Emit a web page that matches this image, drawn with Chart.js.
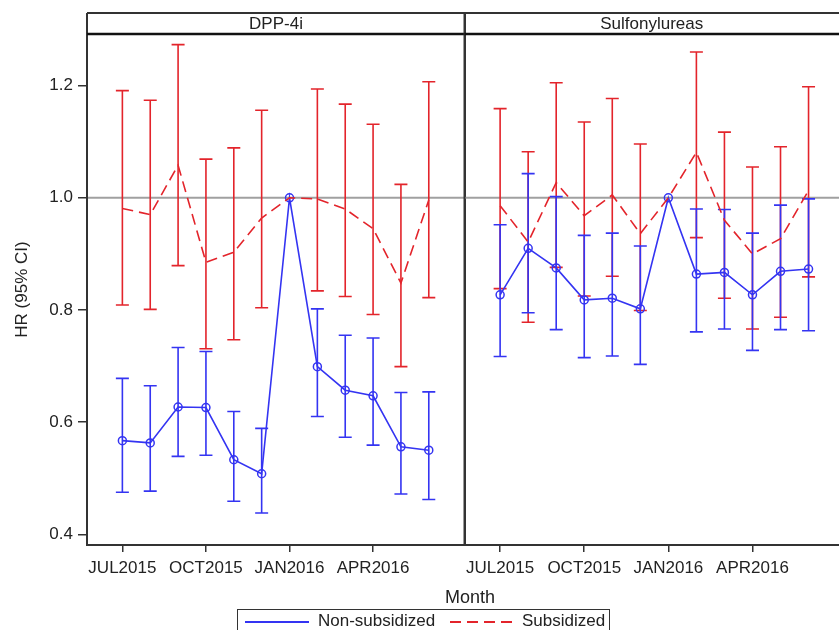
<!DOCTYPE html>
<html>
<head>
<meta charset="utf-8">
<script src="https://cdn.jsdelivr.net/npm/chart.js@4.4.1/dist/chart.umd.min.js"></script>
<style>
  body {
    margin: 0;
    width: 839px;
    height: 630px;
    overflow: hidden;
    background: #fff;
    position: relative;
    font-family: "Liberation Sans", Arial, sans-serif;
    color: #222;
  }
  canvas { position: absolute; top: 0; }
  #chart-dpp { left: 0; }
  #chart-su { left: 460px; }
  #xtitle {
    position: absolute;
    left: 420px;
    width: 100px;
    top: 586px;
    text-align: center;
    font-size: 18px;
    line-height: 22px;
  }
  #legend {
    position: absolute;
    left: 237px;
    top: 609px;
    width: 373px;
    height: 30px;
    border: 1.5px solid #333;
    box-sizing: border-box;
    font-size: 17px;
  }
  #legend .swatch {
    position: absolute;
    top: 11px;
    height: 2px;
  }
  #legend .label {
    position: absolute;
    top: 1px;
    line-height: 20px;
  }
</style>
</head>
<body>
<canvas id="chart-dpp" width="466" height="590"></canvas>
<canvas id="chart-su" width="385" height="590"></canvas>
<div id="xtitle">Month</div>
<div id="legend">
  <span class="swatch" style="left:7px;width:64px;background:#3434f2;"></span>
  <span class="label" style="left:80px;">Non-subsidized</span>
  <span class="swatch" style="left:212px;width:64px;background:repeating-linear-gradient(to right,#e3242b 0 11px,transparent 11px 17px);"></span>
  <span class="label" style="left:284px;">Subsidized</span>
</div>
<script>
const months = ["JUL2015", "AUG2015", "SEP2015", "OCT2015", "NOV2015", "DEC2015",
  "JAN2016", "FEB2016", "MAR2016", "APR2016", "MAY2016", "JUN2016"];
const xTickIndex = [0, 3, 6, 9];
const yTicks = [0.4, 0.6, 0.8, 1.0, 1.2];

// DPP-4i
const dppNonSub   = [0.567, 0.563, 0.627, 0.626, 0.533, 0.508, 1.0, 0.699, 0.657, 0.647, 0.556, 0.550];
const dppNonSubLo = [0.475, 0.477, 0.539, 0.541, 0.459, 0.438, null, 0.610, 0.573, 0.559, 0.472, 0.462];
const dppNonSubHi = [0.678, 0.665, 0.733, 0.726, 0.619, 0.589, null, 0.802, 0.755, 0.750, 0.653, 0.654];
const dppSub      = [0.981, 0.970, 1.058, 0.885, 0.903, 0.964, 1.0, 0.998, 0.980, 0.945, 0.848, 0.996];
const dppSubLo    = [0.809, 0.801, 0.879, 0.731, 0.747, 0.804, null, 0.834, 0.824, 0.792, 0.699, 0.822];
const dppSubHi    = [1.191, 1.174, 1.273, 1.069, 1.089, 1.156, null, 1.194, 1.167, 1.131, 1.024, 1.207];

// Sulfonylureas
const suNonSub    = [0.827, 0.910, 0.875, 0.818, 0.821, 0.802, 1.0, 0.864, 0.867, 0.827, 0.869, 0.873];
const suNonSubLo  = [0.717, 0.795, 0.765, 0.715, 0.718, 0.703, null, 0.761, 0.766, 0.728, 0.765, 0.763];
const suNonSubHi  = [0.952, 1.043, 1.002, 0.933, 0.937, 0.914, null, 0.980, 0.979, 0.937, 0.987, 0.998];
const suSub       = [0.986, 0.921, 1.027, 0.968, 1.005, 0.936, 1.0, 1.081, 0.960, 0.900, 0.927, 1.013];
const suSubLo     = [0.838, 0.778, 0.876, 0.825, 0.860, 0.799, null, 0.929, 0.821, 0.766, 0.787, 0.859];
const suSubHi     = [1.159, 1.082, 1.205, 1.135, 1.177, 1.096, null, 1.260, 1.117, 1.055, 1.091, 1.198];

const blue = "#3434f2";
const red = "#e3242b";
const frameColor = "#333";

Chart.defaults.font.family = '"Liberation Sans", Arial, sans-serif';
Chart.defaults.font.size = 17;
Chart.defaults.color = "#222";

const toPoints = (values) => values.map((v, i) => ({ x: i, y: v }));

// error bars, reference line at 1.0, frame and the panel header
const panelPlugin = {
  id: "panel",
  beforeDatasetsDraw(chart) {
    const { ctx, chartArea, scales } = chart;
    const y1 = scales.y.getPixelForValue(1.0);
    ctx.save();
    ctx.strokeStyle = "#a0a0a0";
    ctx.lineWidth = 2;
    ctx.beginPath();
    ctx.moveTo(chartArea.left, y1);
    ctx.lineTo(chartArea.right, y1);
    ctx.stroke();

    chart.data.datasets.forEach((ds, di) => {
      const meta = chart.getDatasetMeta(di);
      ctx.strokeStyle = ds.borderColor;
      ctx.lineWidth = 1.6;
      meta.data.forEach((pt, i) => {
        const lo = ds.errLo[i];
        const hi = ds.errHi[i];
        if (lo == null || hi == null) return;
        const yl = scales.y.getPixelForValue(lo);
        const yh = scales.y.getPixelForValue(hi);
        ctx.beginPath();
        ctx.moveTo(pt.x, yl);
        ctx.lineTo(pt.x, yh);
        ctx.moveTo(pt.x - 6.5, yl);
        ctx.lineTo(pt.x + 6.5, yl);
        ctx.moveTo(pt.x - 6.5, yh);
        ctx.lineTo(pt.x + 6.5, yh);
        ctx.stroke();
      });
    });
    ctx.restore();
  },
  afterDraw(chart, args, opts) {
    const { ctx, chartArea } = chart;
    const { left, right, top, bottom } = chartArea;
    ctx.save();
    ctx.strokeStyle = frameColor;
    ctx.lineWidth = 2;
    ctx.beginPath();
    ctx.moveTo(left, 13);
    ctx.lineTo(left, bottom);
    ctx.lineTo(right, bottom);
    ctx.lineTo(right, 13);
    ctx.moveTo(left, 13);
    ctx.lineTo(right, 13);
    ctx.stroke();
    ctx.strokeStyle = "#111";
    ctx.lineWidth = 2.5;
    ctx.beginPath();
    ctx.moveTo(left, top);
    ctx.lineTo(right, top);
    ctx.stroke();
    ctx.fillStyle = "#222";
    ctx.font = '17px "Liberation Sans", Arial, sans-serif';
    ctx.textAlign = "center";
    ctx.textBaseline = "middle";
    const visibleRight = Math.min(right, opts.visibleRight);
    ctx.fillText(opts.title, (left + visibleRight) / 2, 24);
    ctx.restore();
  },
};

function makeChart(canvasId, title, nonSub, nonSubLo, nonSubHi, sub, subLo, subHi, showY, visibleRight) {
  const canvas = document.getElementById(canvasId);
  return new Chart(canvas, {
    type: "line",
    data: {
      datasets: [
        {
          label: "Subsidized",
          data: toPoints(sub),
          errLo: subLo,
          errHi: subHi,
          borderColor: red,
          borderWidth: 1.6,
          borderDash: [11, 6],
          pointRadius: 0,
          fill: false,
        },
        {
          label: "Non-subsidized",
          data: toPoints(nonSub),
          errLo: nonSubLo,
          errHi: nonSubHi,
          borderColor: blue,
          borderWidth: 1.6,
          pointRadius: 4,
          pointBorderWidth: 1.5,
          pointBorderColor: blue,
          pointBackgroundColor: "rgba(0,0,0,0)",
          fill: false,
        },
      ],
    },
    options: {
      responsive: false,
      animation: false,
      layout: {
        autoPadding: false,
        padding: { top: 34, right: showY ? 1 : 0, left: showY ? 0 : 1, bottom: 0 },
      },
      plugins: {
        legend: { display: false },
        tooltip: { enabled: false },
        panel: { title: title, visibleRight: visibleRight },
      },
      scales: {
        x: {
          type: "linear",
          min: -1.27,
          max: 12.3,
          afterBuildTicks: (scale) => {
            scale.ticks = xTickIndex.map((v) => ({ value: v }));
          },
          afterFit: (scale) => {
            scale.height = 45;
          },
          ticks: {
            autoSkip: false,
            maxRotation: 0,
            padding: 6,
            callback: (v) => months[v],
          },
          grid: {
            drawOnChartArea: false,
            tickLength: 7,
            color: frameColor,
            lineWidth: 1.5,
          },
          border: { display: false },
        },
        y: {
          display: showY,
          min: 0.381,
          max: 1.292,
          afterBuildTicks: (scale) => {
            scale.ticks = yTicks.map((v) => ({ value: v }));
          },
          afterFit: (scale) => {
            scale.width = showY ? 87 : 0;
          },
          ticks: {
            padding: 5,
            callback: (v) => v.toFixed(1),
          },
          grid: {
            drawOnChartArea: false,
            tickLength: 9,
            color: frameColor,
            lineWidth: 1.5,
          },
          border: { display: false },
          title: {
            display: true,
            text: "HR (95% CI)",
            padding: { top: 12, bottom: 0 },
          },
        },
      },
    },
    plugins: [panelPlugin],
  });
}

makeChart("chart-dpp", "DPP-4i", dppNonSub, dppNonSubLo, dppNonSubHi, dppSub, dppSubLo, dppSubHi, true, 466);
// right panel runs past the window edge, so its title is centred on the visible part
makeChart("chart-su", "Sulfonylureas", suNonSub, suNonSubLo, suNonSubHi, suSub, suSubLo, suSubHi, false, 839 - 460);
</script>
</body>
</html>
